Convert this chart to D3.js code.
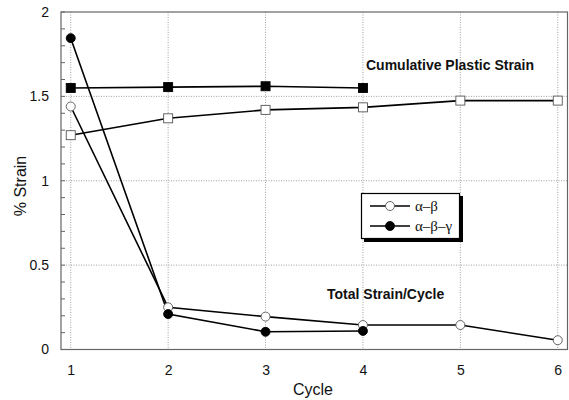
<!DOCTYPE html>
<html>
<head>
<meta charset="utf-8">
<script src="https://cdn.jsdelivr.net/npm/d3@7"></script>
<style>
  html, body { margin: 0; padding: 0; background: #fff; }
  svg { display: block; }
</style>
</head>
<body>
<svg id="chart" width="569" height="400"></svg>
<script>
// Cycle numbers and strain values (%)
const cycles = [1, 2, 3, 4, 5, 6];
const plasticAB = [1.27, 1.37, 1.42, 1.435, 1.475, 1.475];
const plasticABG = [1.55, 1.555, 1.56, 1.55];
const totalAB = [1.44, 0.25, 0.195, 0.145, 0.145, 0.055];
const totalABG = [1.845, 0.21, 0.105, 0.11];
const yTicks = [0, 0.5, 1, 1.5, 2];
const legendLabels = ["\u03b1\u2013\u03b2", "\u03b1\u2013\u03b2\u2013\u03b3"];

const svg = d3.select("#chart");
const plotLeft = 61, plotRight = 567.5, plotTop = 12, plotBottom = 349.5;

const x = d3.scaleLinear().domain([0.9, 6.1]).range([plotLeft, plotRight]);
const y = d3.scaleLinear().domain([0, 2]).range([plotBottom, plotTop]);

const sans = "'Liberation Sans', Arial, Helvetica, sans-serif";

// Grid lines
const grid = svg.append("g");
grid.selectAll("line.v").data(cycles).join("line")
  .attr("x1", d => x(d)).attr("x2", d => x(d))
  .attr("y1", plotTop).attr("y2", plotBottom)
  .attr("stroke", "#8a8a8a").attr("stroke-width", 0.8)
  .attr("stroke-dasharray", "1,1.5");
grid.selectAll("line.h").data(yTicks.filter(d => d > 0 && d < 2)).join("line")
  .attr("x1", plotLeft).attr("x2", plotRight)
  .attr("y1", d => y(d)).attr("y2", d => y(d))
  .attr("stroke", "#8a8a8a").attr("stroke-width", 0.8)
  .attr("stroke-dasharray", "1,1.5");

// Plot frame
svg.append("rect")
  .attr("x", plotLeft).attr("y", plotTop)
  .attr("width", plotRight - plotLeft).attr("height", plotBottom - plotTop)
  .attr("fill", "none").attr("stroke", "#666").attr("stroke-width", 1.2);

// Y axis with inward minor ticks
const yAxis = d3.axisLeft(y).tickValues(yTicks).tickSize(0).tickPadding(12)
  .tickFormat(d3.format("~g"));
const gy = svg.append("g").attr("transform", `translate(${plotLeft},0)`).call(yAxis);
gy.select(".domain").remove();
gy.selectAll("text").attr("font-family", sans).attr("font-size", 14).attr("fill", "#111");

const minor = d3.range(0, 2.0001, 0.1);
svg.append("g").selectAll("line").data(minor).join("line")
  .attr("x1", plotLeft).attr("x2", plotLeft + 4)
  .attr("y1", d => y(d)).attr("y2", d => y(d))
  .attr("stroke", "#666").attr("stroke-width", 1);

// X axis
const xAxis = d3.axisBottom(x).tickValues(cycles).tickSize(0).tickPadding(16)
  .tickFormat(d3.format("d"));
const gx = svg.append("g").attr("transform", `translate(0,${plotBottom})`).call(xAxis);
gx.select(".domain").remove();
gx.selectAll("text").attr("font-family", sans).attr("font-size", 14).attr("fill", "#111");

// Axis titles
svg.append("text").attr("x", 313).attr("y", 395)
  .attr("text-anchor", "middle").attr("font-family", sans).attr("font-size", 16)
  .attr("fill", "#111").text("Cycle");
svg.append("text").attr("transform", "translate(26,186) rotate(-90)")
  .attr("text-anchor", "middle").attr("font-family", sans).attr("font-size", 16)
  .attr("fill", "#111").text("% Strain");

// Series lines
const line = d3.line().x(d => x(d[0])).y(d => y(d[1]));
const pairs = vals => vals.map((v, i) => [cycles[i], v]);
const series = [
  { vals: plasticAB, shape: "square", fill: "#fff" },
  { vals: plasticABG, shape: "square", fill: "#000" },
  { vals: totalAB, shape: "circle", fill: "#fff" },
  { vals: totalABG, shape: "circle", fill: "#000" }
];
series.forEach(s => {
  svg.append("path").datum(pairs(s.vals))
    .attr("d", line).attr("fill", "none")
    .attr("stroke", "#000").attr("stroke-width", 1.6);
});
series.forEach(s => {
  const g = svg.append("g");
  if (s.shape === "square") {
    g.selectAll("rect").data(pairs(s.vals)).join("rect")
      .attr("x", d => x(d[0]) - 4.5).attr("y", d => y(d[1]) - 4.5)
      .attr("width", 9).attr("height", 9)
      .attr("fill", s.fill).attr("stroke", s.fill === "#000" ? "#000" : "#555")
      .attr("stroke-width", 0.9);
  } else {
    g.selectAll("circle").data(pairs(s.vals)).join("circle")
      .attr("cx", d => x(d[0])).attr("cy", d => y(d[1])).attr("r", 4.5)
      .attr("fill", s.fill).attr("stroke", s.fill === "#000" ? "#000" : "#555")
      .attr("stroke-width", 0.9);
  }
});

// Annotations
svg.append("text").attr("x", 366).attr("y", 70)
  .attr("font-family", sans).attr("font-size", 14).attr("font-weight", "bold")
  .attr("fill", "#111").text("Cumulative Plastic Strain");
svg.append("text").attr("x", 327).attr("y", 299)
  .attr("font-family", sans).attr("font-size", 14).attr("font-weight", "bold")
  .attr("fill", "#111").text("Total Strain/Cycle");

// Legend box with drop shadow
const lg = svg.append("g");
lg.append("rect").attr("x", 364).attr("y", 196).attr("width", 99).attr("height", 46)
  .attr("fill", "#000");
lg.append("rect").attr("x", 361.5).attr("y", 193.5).attr("width", 98).attr("height", 45)
  .attr("fill", "#fff").attr("stroke", "#000").attr("stroke-width", 1.2);
const legendFills = ["#fff", "#000"];
legendLabels.forEach((lab, i) => {
  const ly = 206 + i * 20;
  lg.append("line").attr("x1", 370).attr("x2", 410).attr("y1", ly).attr("y2", ly)
    .attr("stroke", "#000").attr("stroke-width", 1.6);
  lg.append("circle").attr("cx", 390).attr("cy", ly).attr("r", 4.5)
    .attr("fill", legendFills[i]).attr("stroke", i ? "#000" : "#555").attr("stroke-width", 0.9);
  lg.append("text").attr("x", 415).attr("y", ly + 5)
    .attr("font-family", "'Liberation Serif', 'Times New Roman', serif")
    .attr("font-size", 15).attr("fill", "#111").text(lab);
});
</script>
</body>
</html>
